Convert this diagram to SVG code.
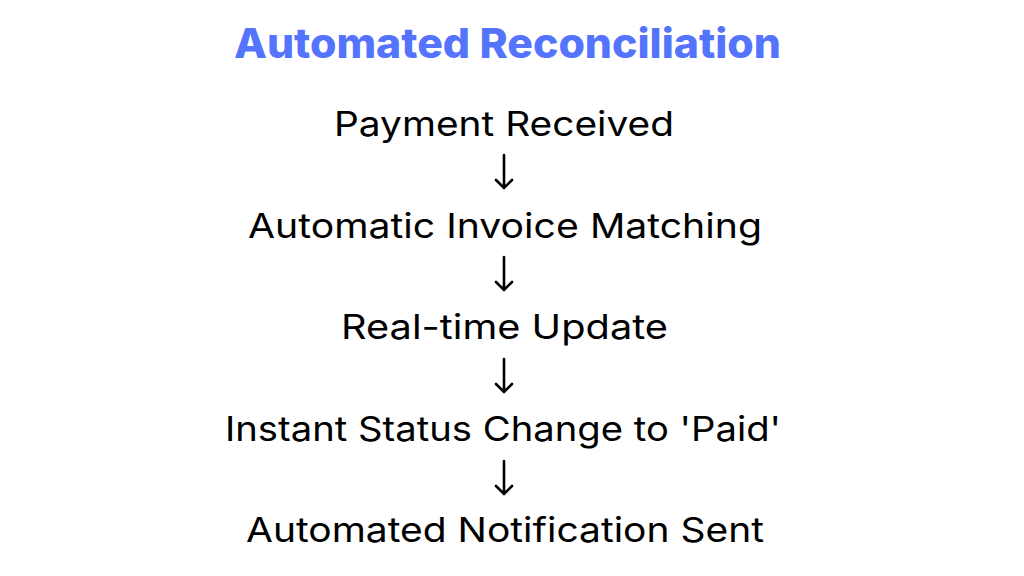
<svg xmlns="http://www.w3.org/2000/svg" width="1024" height="576" viewBox="0 0 1024 576">
<style>
.t{font-family:Inter,"Open Sans","Liberation Sans",sans-serif;font-size:34px;fill:#000;text-anchor:middle}
.title{font-family:Inter,"Open Sans","Liberation Sans",sans-serif;font-size:41px;font-weight:800;fill:#5574FD;text-anchor:middle}
.a{fill:none;stroke:#000;stroke-width:2.6;stroke-linecap:round;stroke-linejoin:miter}
</style>
<rect width="1024" height="576" fill="#fff"/>
<text class="title" x="507.5" y="58" textLength="547" lengthAdjust="spacingAndGlyphs">Automated Reconciliation</text>
<g id="n1"><text class="t" x="504" y="136" textLength="340" lengthAdjust="spacingAndGlyphs">Payment Received</text></g>
<g id="n2"><text class="t" x="505" y="238" textLength="514" lengthAdjust="spacingAndGlyphs">Automatic Invoice Matching</text></g>
<g id="n3"><text class="t" x="504.5" y="339" textLength="327" lengthAdjust="spacingAndGlyphs">Real-time Update</text></g>
<g id="n4"><text class="t" x="503" y="441" textLength="556" lengthAdjust="spacingAndGlyphs">Instant Status Change to 'Paid'</text></g>
<g id="n5"><text class="t" x="505" y="542" textLength="518" lengthAdjust="spacingAndGlyphs">Automated Notification Sent</text></g>
<g id="connectors">
<path class="a" d="M504 155V188M496 180L504 188L512 180"/>
<path class="a" d="M504 257V290M496 282L504 290L512 282"/>
<path class="a" d="M504 359V392M496 384L504 392L512 384"/>
<path class="a" d="M504 461V494M496 486L504 494L512 486"/>
</g>
</svg>
